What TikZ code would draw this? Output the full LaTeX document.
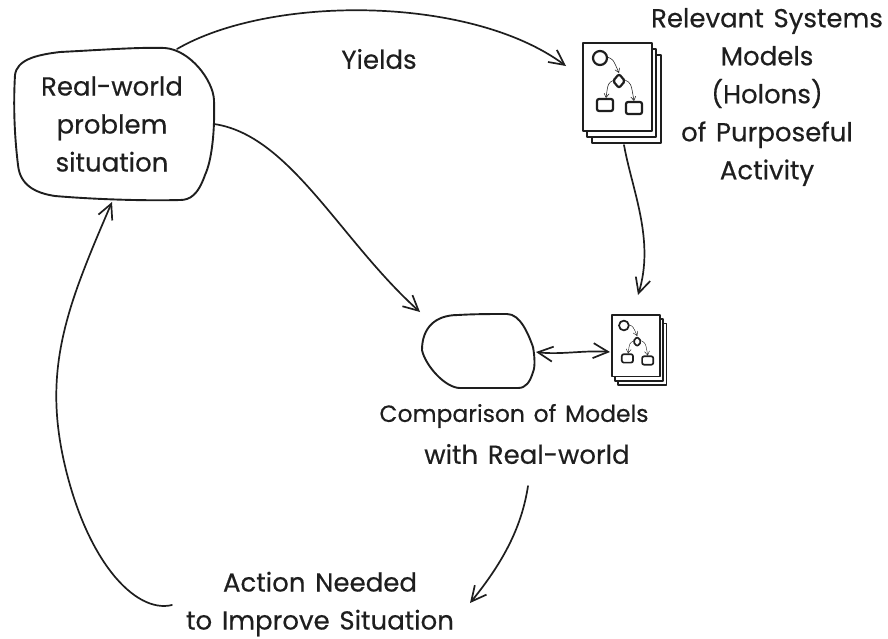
\documentclass[tikz,border=0pt]{standalone}
\usepackage{fontspec}
\setmainfont{Poppins}[WordSpace=1.4,FakeBold=0.4]
\usepackage{tikz}
\usetikzlibrary{arrows.meta}
\definecolor{ink}{HTML}{1E1E1E}
\tikzset{
  holon/.pic={
    \foreach \dx/\dy in {9/12,4/6,0/0} {
      \draw[fill=white] (\dx,\dy) -- (\dx+69,\dy) -- (\dx+69,\dy+88) -- (\dx,\dy+88) -- cycle;
    }
    \begin{scope}[>={Straight Barb[length=4pt,width=5pt]}]
      \draw (17,15) circle (7);
      \draw[rounded corners=2pt] (36,31) -- (42,38) -- (36,45) -- (30,38) -- cycle;
      \draw[rounded corners=2pt] (14,56) rectangle (30,68);
      \draw[rounded corners=2pt] (43,59) rectangle (59,71);
      \draw[->,line width=0.5\pgflinewidth] (24,14) .. controls (30,16) .. (36,30);
      \draw[->,line width=0.5\pgflinewidth] (31,37) .. controls (25,40) .. (23,55);
      \draw[->,line width=0.5\pgflinewidth] (42,37) .. controls (48,40) .. (51,58);
    \end{scope}
    \coordinate (-bottom) at (41,102);
  }
}
\begin{document}
\begin{tikzpicture}[x=1pt,y=-1pt,color=ink,line cap=round,line join=round]
  \useasboundingbox (0,0) rectangle (888,638);
  \draw[line width=1.9pt] (15,75) .. controls (17,60) and (35,55) .. (60,52) .. controls (100,50) and (140,47) .. (165,48) .. controls (190,50) and (213,80) .. (214,100) .. controls (215,130) and (212,160) .. (205,175) .. controls (198,195) and (190,200) .. (180,200) .. controls (140,201) and (90,199) .. (55,196) .. controls (35,193) and (20,185) .. (18,165) .. controls (15,140) and (13,110) .. (15,75) -- cycle;
  \draw[line width=1.9pt] (422,350) .. controls (422,328) and (435,315) .. (458,315) .. controls (475,314) and (490,314) .. (507,314) .. controls (520,314) and (528,333) .. (533,347) .. controls (535,358) and (535,368) .. (533,372) .. controls (530,382) and (526,388) .. (518,388) -- (460,388) .. controls (445,388) and (425,365) .. (422,350) -- cycle;
  \pic[line width=2.2pt] (bigholon) at (583,43) {holon};
  \pic[line width=1.7pt,scale=0.7] (smallholon) at (612,315) {holon};
  \begin{scope}[every node/.style={align=center,inner sep=0pt,font=\fontsize{26}{38}\selectfont}]
    \node (world) at (112,124) {Real-world\\problem\\situation};
    \node (yields) at (379,59) {Yields};
    \node (systems) at (767,97) {Relevant Systems\\Models\\(Holons)\\of Purposeful\\Activity};
    \node (comparison) at (514,416) {\fontsize{23.4}{38}\selectfont Comparison of Models};
    \node (withworld) at (527,454) {with Real-world};
    \node (action) at (320,604) {Action Needed\\to Improve Situation};
  \end{scope}
  \coordinate (worldtop) at (177,49);
  \coordinate (worldright) at (214,124);
  \coordinate (worldbottom) at (112,202);
  \coordinate (cmpleft) at (420,312);
  \coordinate (cmpright) at (536,352);
  \coordinate (smallin) at (610,352);
  \coordinate (bigin) at (566,66);
  \coordinate (smalltop) at (638,295);
  \coordinate (withbottom) at (528,486);
  \coordinate (actionin) at (470,603);
  \coordinate (actionout) at (172,605);
  \begin{scope}[every path/.style={->},>={Straight Barb[length=15pt,width=15pt]},line width=1.7pt]
    \draw (worldtop) .. controls (270,-5) and (470,-5) .. (bigin);
    \draw (worldright) .. controls (290,135) and (340,240) .. (cmpleft);
    \draw (bigholon-bottom) .. controls (632,190) and (655,240) .. (smalltop);
    \draw[<->] (cmpright) .. controls (560,355) and (585,350) .. (smallin);
    \draw (withbottom) .. controls (522,525) and (505,560) .. (actionin);
    \draw (actionout) .. controls (135,614) and (85,560) .. (63,457) .. controls (50,395) and (56,345) .. (80,280) .. controls (90,253) and (100,230) .. (worldbottom);
  \end{scope}
\end{tikzpicture}
\end{document}
